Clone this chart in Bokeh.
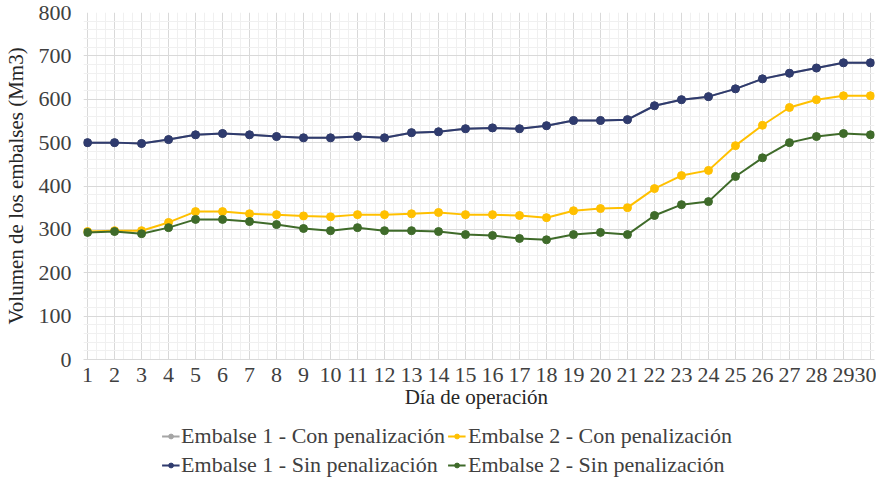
from bokeh.plotting import figure
from bokeh.layouts import column
from bokeh.models import Range1d, Legend, LegendItem, FixedTicker, SingleIntervalTicker
from bokeh.embed import file_html
from bokeh.resources import INLINE

dias = list(range(1, 31))
e1_con = [500, 500, 498, 507, 518, 521, 518, 514, 511, 511, 514, 511, 523, 525, 532, 534, 532, 539, 551, 551,
          553, 585, 599, 606, 624, 647, 660, 672, 684, 684]
e2_con = [295, 297, 297, 316, 341, 341, 336, 334, 331, 329, 334, 334, 336, 339, 334, 334, 332, 327, 343, 348,
          350, 394, 424, 436, 493, 540, 581, 599, 608, 608]
e1_sin = [500, 500, 498, 507, 518, 521, 518, 514, 511, 511, 514, 511, 523, 525, 532, 534, 532, 539, 551, 551,
          553, 585, 599, 606, 624, 647, 660, 672, 684, 684]
e2_sin = [293, 295, 290, 304, 323, 323, 318, 311, 302, 297, 304, 297, 297, 295, 288, 286, 279, 276, 288, 293,
          288, 332, 357, 364, 422, 465, 500, 514, 521, 518]

series_names = ["Embalse 1 - Con penalización", "Embalse 2 - Con penalización",
                "Embalse 1 - Sin penalización", "Embalse 2 - Sin penalización"]
y_ticks = [0, 100, 200, 300, 400, 500, 600, 700, 800]

FONT = "'Liberation Serif', 'Times New Roman', serif"
colors = ["#A5A5A5", "#FFC000", "#2F3B6E", "#3F6B2A"]
data = [e1_con, e2_con, e1_sin, e2_sin]

p = figure(frame_width=791, frame_height=347, output_backend="svg", toolbar_location=None,
           x_range=Range1d(0.85, 30.15), y_range=Range1d(0, 800),
           min_border_left=77, min_border_right=2, min_border_top=12, min_border_bottom=52)
p.outline_line_color = None
p.background_fill_color = "white"

# grids
p.xgrid.ticker = FixedTicker(ticks=dias, minor_ticks=[d + f for d in range(1, 30) for f in (0.33, 0.67)])
p.xgrid.grid_line_color = "#D9D9D9"
p.xgrid.minor_grid_line_color = "#F0F0F0"
p.ygrid.ticker = SingleIntervalTicker(interval=100, num_minor_ticks=5)
p.ygrid.grid_line_color = "#D9D9D9"
p.ygrid.minor_grid_line_color = "#F0F0F0"

# axes
p.xaxis.ticker = FixedTicker(ticks=dias)
p.yaxis.ticker = FixedTicker(ticks=y_ticks)
for ax in (p.xaxis[0], p.yaxis[0]):
    ax.major_label_text_font = FONT
    ax.major_label_text_font_size = "22px"
    ax.major_label_text_color = "#404040"
    ax.axis_label_text_font = FONT
    ax.axis_label_text_font_size = "21px"
    ax.axis_label_text_font_style = "normal"
    ax.axis_label_text_color = "#262626"
    ax.major_tick_line_color = None
    ax.minor_tick_line_color = None
p.xaxis.axis_line_color = "#D9D9D9"
p.yaxis.axis_line_color = None
p.xaxis.axis_label = "Día  de operación"
p.yaxis.axis_label = "Volumen de los embalses (Mm3)"
p.xaxis.major_label_standoff = 2
p.xaxis.axis_label_standoff = 0
p.yaxis.major_label_standoff = 6
p.yaxis.axis_label_standoff = 8

for vals, col in zip(data, colors):
    p.line(dias, vals, line_color=col, line_width=2)
    p.scatter(dias, vals, size=8, fill_color=col, line_color=col)

# legend in its own strip below the chart
lg = figure(width=870, height=80, output_backend="svg", toolbar_location=None,
            x_range=Range1d(0, 1), y_range=Range1d(0, 1),
            min_border_top=12, min_border_bottom=0, min_border_left=0, min_border_right=60)
lg.axis.visible = False
lg.grid.visible = False
lg.outline_line_color = None
items = []
for name, col in zip(series_names, colors):
    l = lg.line([-5, -4], [-5, -4], line_color=col, line_width=2)
    c = lg.scatter([-5], [-5], size=6, fill_color=col, line_color=col)
    items.append(LegendItem(label=name, renderers=[l, c]))
legend = Legend(items=items, ncols=2, orientation="horizontal", location="top_center",
                border_line_color=None, background_fill_alpha=0, padding=2, margin=0,
                glyph_width=18, glyph_height=12, label_standoff=2, spacing=3,
                label_height=23)
legend.label_text_font = FONT
legend.label_text_font_size = "22px"
legend.label_text_color = "#404040"
lg.add_layout(legend, "center")

open("out.html", "w").write(file_html(column(p, lg), INLINE))
